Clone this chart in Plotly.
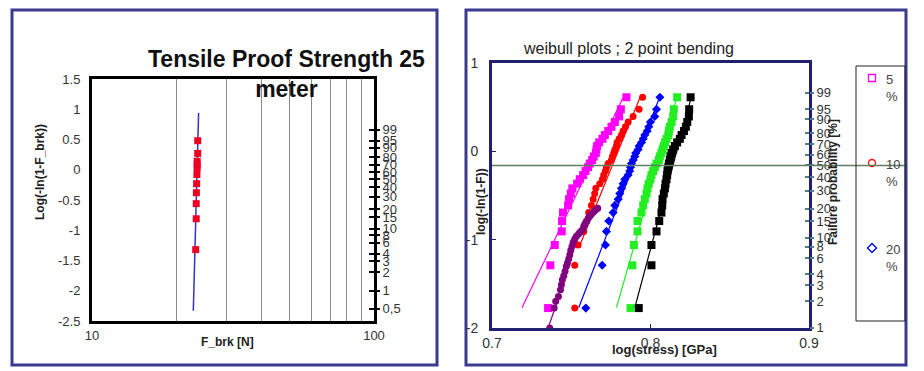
import math
import plotly.graph_objects as go

W, H = 924, 371
FONT = "Liberation Sans, Arial, sans-serif"

# ---------------- Left chart data ----------------
left_title = "Tensile Proof Strength 25<br>meter"
left_xlabel = "F_brk [N]"
left_ylabel = "Log(-ln(1-F_brk))"
f_brk = [23.32, 23.42, 23.42, 23.45, 23.5, 23.55, 23.6, 23.6, 23.6, 23.71, 23.71]
left_y = [-1.32, -0.81, -0.56, -0.38, -0.23, -0.08, 0.03, 0.08, 0.14, 0.27, 0.48]
left_fit_x = [22.87, 23.88]
left_fit_y = [-2.33, 0.94]
left_yticks = [1.5, 1, 0.5, 0, -0.5, -1, -1.5, -2, -2.5]
left_ytick_text = ["1.5", "1", "0.5", "0", "-0.5", "-1", "-1.5", "-2", "-2.5"]
left_xticks = [10, 100]
left_xgrid = [20, 30, 40, 50, 60, 70, 80, 90]
left_prob = [99, 95, 90, 80, 70, 60, 50, 40, 30, 20, 15, 10, 8, 6, 4, 3, 2, 1, 0.5]
left_prob_text = ["99", "95", "90", "80", "70", "60", "50", "40", "30", "20", "15", "10",
                  "8", "6", "4", "3", "2", "1", "0,5"]

# ---------------- Right chart data ----------------
right_title = "weibull plots ; 2 point bending"
right_xlabel = "log(stress) [GPa]"
right_ylabel = "log(-ln(1-F))"
right_y2label = "Failure probability [%]"
rank_y = [-1.7745, -1.2900, -1.0604, -0.9064, -0.7891, -0.6935, -0.6123, -0.5411,
          -0.4774, -0.4193, -0.3657, -0.3157, -0.2684, -0.2234, -0.1802, -0.1384,
          -0.0977, -0.0578, -0.0182, 0.0211, 0.0607, 0.1008, 0.1419, 0.1845,
          0.2296, 0.2781, 0.3321, 0.3953, 0.4765, 0.6122]
magenta_x = [0.7354, 0.7368, 0.7396, 0.7440, 0.7442, 0.7448, 0.7480, 0.7486, 0.7497, 0.7507,
             0.7537, 0.7554, 0.7575, 0.7590, 0.7606, 0.7617, 0.7632, 0.7642, 0.7655, 0.7659,
             0.7663, 0.7676, 0.7697, 0.7712, 0.7733, 0.7754, 0.7775, 0.7802, 0.7813, 0.7848]
red_x = [0.7522, 0.7522, 0.7543, 0.7579, 0.7596, 0.7610, 0.7627, 0.7638, 0.7648, 0.7655,
         0.7680, 0.7697, 0.7705, 0.7716, 0.7722, 0.7733, 0.7754, 0.7760, 0.7768, 0.7775,
         0.7785, 0.7789, 0.7802, 0.7817, 0.7827, 0.7842, 0.7859, 0.7890, 0.7928, 0.7950]
blue_x = [0.7592, 0.7695, 0.7716, 0.7722, 0.7737, 0.7764, 0.7775, 0.7796, 0.7806, 0.7817,
          0.7827, 0.7838, 0.7859, 0.7869, 0.7874, 0.7880, 0.7891, 0.7901, 0.7907, 0.7922,
          0.7928, 0.7943, 0.7954, 0.7964, 0.7979, 0.7989, 0.8000, 0.8027, 0.8038, 0.8059]
green_x = [0.7874, 0.7886, 0.7895, 0.7918, 0.7918, 0.7943, 0.7954, 0.7964, 0.7975, 0.7981,
           0.7989, 0.8000, 0.8006, 0.8017, 0.8027, 0.8038, 0.8053, 0.8059, 0.8069, 0.8076,
           0.8084, 0.8091, 0.8101, 0.8112, 0.8116, 0.8122, 0.8133, 0.8143, 0.8147, 0.8168]
black_x = [0.7926, 0.8006, 0.8006, 0.8038, 0.8055, 0.8069, 0.8074, 0.8076, 0.8084, 0.8091,
           0.8095, 0.8101, 0.8105, 0.8107, 0.8112, 0.8116, 0.8122, 0.8126, 0.8133, 0.8143,
           0.8154, 0.8168, 0.8185, 0.8196, 0.8211, 0.8223, 0.8232, 0.8242, 0.8244, 0.8253]
purple_x = [0.7364, 0.7392, 0.7402, 0.7419, 0.7432, 0.7438, 0.7444, 0.7453, 0.7461, 0.7469,
            0.7476, 0.7484, 0.7491, 0.7497, 0.7505, 0.7512, 0.7522, 0.7533, 0.7547, 0.7558,
            0.7571, 0.7579, 0.7587, 0.7598, 0.7608, 0.7619, 0.7629, 0.7642, 0.7655, 0.7667]
purple_y = [-2.0, -1.774, -1.698, -1.642, -1.566, -1.509, -1.453, -1.408, -1.358, -1.302,
            -1.264, -1.219, -1.17, -1.121, -1.075, -1.03, -0.992, -0.962, -0.932, -0.909,
            -0.887, -0.849, -0.819, -0.792, -0.755, -0.728, -0.706, -0.683, -0.66, -0.645]
fit_lines = {
    "magenta": ([0.7189, 0.7827], [-1.77, 0.61]),
    "red": ([0.7555, 0.7935], [-1.06, 0.615]),
    "blue": ([0.7547, 0.8055], [-1.77, 0.60]),
    "green": ([0.7785, 0.8164], [-1.77, 0.60]),
    "black": ([0.7901, 0.8255], [-1.77, 0.60]),
    "purple": ([0.7354, 0.7420], [-2.0, -1.66]),
}
median_level = -0.159
right_xticks = [0.7, 0.8, 0.9]
right_yticks = [-2, -1, 0, 1]
right_prob = [99, 95, 90, 80, 70, 60, 50, 40, 30, 20, 15, 10, 8, 6, 4, 3, 2, 1]
legend_labels = ["5", "10", "20"]
legend_symbols = ["square-open", "circle-open", "diamond-open"]
legend_colors = ["#ff00ff", "#ff0000", "#0000ff"]

COL = {"magenta": "#ff00ff", "red": "#ff0000", "blue": "#0000ff",
       "green": "#22ee22", "black": "#000000", "purple": "#800080"}


def prob_pos(p):
    return math.log10(-math.log(1 - p / 100.0))


def px(x):
    return x / W


def py(y):
    return 1 - y / H


fig = go.Figure()

# ----- left chart traces -----
fig.add_trace(go.Scatter(x=left_fit_x, y=left_fit_y, mode="lines",
                         line=dict(color="#3333cc", width=1.5), xaxis="x", yaxis="y"))
fig.add_trace(go.Scatter(x=f_brk, y=left_y, mode="markers",
                         marker=dict(symbol="square", size=7, color="#ee0022"),
                         xaxis="x", yaxis="y"))
# same points attached to the probability axes so that they are drawn
for ya in ("y2", "y3"):
    fig.add_trace(go.Scatter(x=f_brk, y=left_y, mode="markers", opacity=0,
                             hoverinfo="skip", xaxis="x", yaxis=ya))

# ----- right chart traces -----
series = [("magenta", magenta_x, rank_y, "square", 8),
          ("red", red_x, rank_y, "circle", 7),
          ("blue", blue_x, rank_y, "diamond", 7),
          ("green", green_x, rank_y, "square", 8),
          ("black", black_x, rank_y, "square", 8),
          ("purple", purple_x, purple_y, "circle", 7)]
for name, xs, ys, sym, sz in series:
    fx, fy = fit_lines[name]
    fig.add_trace(go.Scatter(x=fx, y=fy, mode="lines",
                             line=dict(color=COL[name], width=1.2),
                             xaxis="x2", yaxis="y4"))
for name, xs, ys, sym, sz in series:
    fig.add_trace(go.Scatter(x=xs, y=ys, mode="markers",
                             marker=dict(symbol=sym, size=sz, color=COL[name]),
                             xaxis="x2", yaxis="y4"))
for ya in ("y5", "y6"):
    fig.add_trace(go.Scatter(x=black_x, y=rank_y, mode="markers", opacity=0,
                             hoverinfo="skip", xaxis="x2", yaxis=ya))

# legend markers on their own axes (one row per entry)
fig.add_trace(go.Scatter(x=[0.5] * len(legend_labels), y=list(range(len(legend_labels))),
                         mode="markers",
                         marker=dict(symbol=legend_symbols, size=7, color=legend_colors,
                                     line=dict(width=1.3, color=legend_colors)),
                         xaxis="x3", yaxis="y7"))

NAVY_PANEL = "#3a3a90"
PLOT_NAVY = "#20206e"
TEAL = "#4f7f86"

lx0, lx1, ly0, ly1 = 92, 374, 79, 321
rx0, rx1, ry0, ry1 = 492, 809, 63, 328

left_prob_vals = [prob_pos(p) for p in left_prob]
right_prob_vals = [prob_pos(p) for p in right_prob]

tickfont = dict(family=FONT, size=13, color="#333333")

fig.update_layout(
    width=W, height=H, margin=dict(l=0, r=0, t=0, b=0, pad=0, autoexpand=False),
    paper_bgcolor="white", plot_bgcolor="rgba(0,0,0,0)", showlegend=False,
    xaxis=dict(domain=[px(lx0), px(lx1)], anchor="y", type="log", range=[1, 2],
               tickvals=left_xticks, ticktext=["10", "100"], ticks="", showgrid=False,
               showline=True, mirror=True, linecolor="black", linewidth=3,
               zeroline=False, tickfont=tickfont, automargin=False,
               minor=dict(tickvals=left_xgrid, showgrid=True, gridcolor="#8a8a8a",
                          gridwidth=1, ticks="")),
    yaxis=dict(domain=[py(ly1), py(ly0)], anchor="x", range=[-2.5, 1.5],
               tickvals=left_yticks, ticktext=left_ytick_text, ticks="",
               showgrid=False, zeroline=False, showline=True, mirror=True,
               linecolor="black", linewidth=3, tickfont=tickfont,
               ticklabelstandoff=6, automargin=False),
    yaxis2=dict(overlaying="y", anchor="x", side="right", range=[-2.5, 1.5],
                tickvals=left_prob_vals, ticktext=left_prob_text, ticks="outside",
                ticklen=5, tickwidth=2, tickcolor="black", showgrid=False,
                zeroline=False, showline=False, tickfont=tickfont, automargin=False),
    yaxis3=dict(overlaying="y", anchor="x", side="right", range=[-2.5, 1.5],
                tickvals=left_prob_vals, showticklabels=False, ticks="inside",
                ticklen=5, tickwidth=2, tickcolor="black", showgrid=False,
                zeroline=False, showline=False, automargin=False),
    xaxis2=dict(domain=[px(rx0), px(rx1)], anchor="y4", range=[0.7, 0.9],
                tickvals=right_xticks, ticktext=["0.7", "0.8", "0.9"], ticks="inside",
                ticklen=4, tickcolor=PLOT_NAVY, showgrid=False, zeroline=False,
                showline=True, mirror=True, linecolor=PLOT_NAVY, linewidth=3,
                tickfont=dict(family=FONT, size=14, color="#333333"), automargin=False),
    yaxis4=dict(domain=[py(ry1), py(ry0)], anchor="x2", range=[-2, 1],
                tickvals=right_yticks, ticktext=["-2", "-1", "0", "1"], ticks="inside",
                ticklen=4, tickcolor=PLOT_NAVY, showgrid=False, zeroline=False,
                showline=True, mirror=True, linecolor=PLOT_NAVY, linewidth=3,
                tickfont=dict(family=FONT, size=14, color="#333333"),
                ticklabelstandoff=8, automargin=False),
    yaxis5=dict(overlaying="y4", anchor="x2", side="right", range=[-2, 1],
                tickvals=right_prob_vals, ticktext=[str(p) for p in right_prob],
                ticks="outside", ticklen=4, tickwidth=1.5, tickcolor=TEAL,
                showgrid=False, zeroline=False, showline=False,
                tickfont=dict(family=FONT, size=13, color="#333333"), automargin=False),
    yaxis6=dict(overlaying="y4", anchor="x2", side="right", range=[-2, 1],
                tickvals=right_prob_vals, showticklabels=False, ticks="inside",
                ticklen=4, tickwidth=1.5, tickcolor=TEAL, showgrid=False,
                zeroline=False, showline=False, automargin=False),
    # legend area: top of figure down to 333 px; row i sits at 78 + 85*i px
    xaxis3=dict(domain=[px(856), px(888)], anchor="y7", range=[0, 1], visible=False,
                automargin=False),
    yaxis7=dict(domain=[py(333), 1.0], anchor="x3", range=[(333 - 78) / 85, -78 / 85],
                visible=False, automargin=False),
)

shapes = [
    dict(type="rect", xref="paper", yref="paper", x0=px(12), x1=px(437), y0=py(365), y1=py(10),
         line=dict(color=NAVY_PANEL, width=3), layer="below"),
    dict(type="rect", xref="paper", yref="paper", x0=px(466), x1=px(906), y0=py(365), y1=py(10),
         line=dict(color=NAVY_PANEL, width=3), layer="below"),
    dict(type="line", xref="paper", yref="y4", x0=px(rx0), x1=px(905), y0=median_level,
         y1=median_level, line=dict(color="#5e7e62", width=1.5)),
    dict(type="rect", xref="paper", yref="paper", x0=px(856), x1=px(905), y0=py(321), y1=py(66),
         line=dict(color="#222222", width=1)),
]
fig.update_layout(shapes=shapes)

ann = []
ann.append(dict(text="<b>" + left_title + "</b>", xref="paper", yref="paper",
                x=px(286), y=py(74), xanchor="center", yanchor="middle", showarrow=False,
                font=dict(family=FONT, size=23, color="#111111"), align="center"))
ann.append(dict(text="<b>" + left_ylabel + "</b>", xref="paper", yref="paper",
                x=px(40), y=py(172), textangle=-90, xanchor="center", yanchor="middle",
                showarrow=False, font=dict(family=FONT, size=12, color="#222222")))
ann.append(dict(text="<b>" + left_xlabel + "</b>", xref="paper", yref="paper",
                x=px(227), y=py(342), xanchor="center", yanchor="middle",
                showarrow=False, font=dict(family=FONT, size=12, color="#222222")))
ann.append(dict(text=right_title, xref="paper", yref="paper",
                x=px(628), y=py(48), xanchor="center", yanchor="middle",
                showarrow=False, font=dict(family=FONT, size=16, color="#222222")))
ann.append(dict(text="<b>" + right_xlabel + "</b>", xref="paper", yref="paper",
                x=px(664), y=py(349), xanchor="center", yanchor="middle",
                showarrow=False, font=dict(family=FONT, size=13, color="#222222")))
ann.append(dict(text="<b>" + right_ylabel + "</b>", xref="paper", yref="paper",
                x=px(481), y=py(202), textangle=-90, xanchor="center", yanchor="middle",
                showarrow=False, font=dict(family=FONT, size=12, color="#222222")))
ann.append(dict(text="<b>" + right_y2label + "</b>", xref="paper", yref="paper",
                x=px(833), y=py(182), textangle=-90, xanchor="center", yanchor="middle",
                showarrow=False, font=dict(family=FONT, size=12, color="#222222")))
for i, lab in enumerate(legend_labels):
    ann.append(dict(text=lab + "<br>%", xref="x3", yref="y7",
                    x=1.0, y=i - 0.1, xanchor="left", yanchor="top",
                    showarrow=False, align="left", xshift=-4,
                    font=dict(family=FONT, size=13, color="#444444")))
fig.update_layout(annotations=ann)

fig.write_html("out.html", config={"displayModeBar": False},
               post_script="document.body.style.margin='0px';"
                           "document.body.style.overflow='hidden';")
